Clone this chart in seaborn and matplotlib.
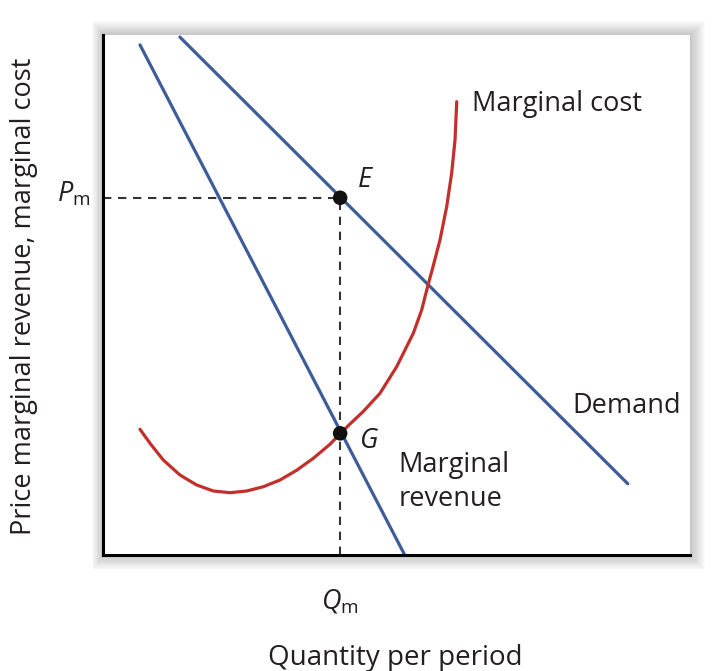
import numpy as np
import pandas as pd
import matplotlib
matplotlib.use('Agg')
import matplotlib.pyplot as plt
from matplotlib.patches import Rectangle
import seaborn as sns

# curve points (x = quantity, y = price), 0..10 scale
demand_x = [1.31, 8.94]
demand_y = [9.96, 1.37]

mr_x = [0.63, 5.14]
mr_y = [9.81, 0.0]

mc_x = [0.630, 0.801, 1.027, 1.312, 1.596, 1.879, 2.164, 2.448, 2.731, 3.015, 3.300, 3.583,
        3.867, 4.037, 4.208, 4.434, 4.719, 5.003, 5.286, 5.429, 5.537, 5.622, 5.741, 5.855,
        5.940, 5.997, 6.026]
mc_y = [2.417, 2.148, 1.827, 1.538, 1.346, 1.231, 1.198, 1.231, 1.313, 1.442, 1.630, 1.860,
        2.130, 2.330, 2.520, 2.760, 3.110, 3.621, 4.263, 4.712, 5.192, 5.544, 6.058, 6.698,
        7.346, 7.981, 8.717]

point_names = ['E', 'G']
point_x = [4.04, 4.04]
point_y = [6.87, 2.34]

blue = '#3d5c99'
red = '#c1302b'
txt = '#231f20'

sns.set_style('white')
plt.rcParams['font.family'] = ['Open Sans', 'DejaVu Sans']
plt.rcParams['mathtext.fontset'] = 'custom'
plt.rcParams['mathtext.rm'] = 'Open Sans'
plt.rcParams['mathtext.it'] = 'Open Sans:italic'

W, H = 720, 671
fig = plt.figure(figsize=(W / 100, H / 100), dpi=100)
ax_pos = [103 / W, 1 - 555 / H, 587 / W, 520 / H]

# soft drop shadow around the box
for k in range(14):
    p = 14 - k
    fig.patches.append(Rectangle(((103 - p * 0.8) / W, 1 - (555 + p * 1.1) / H),
                                 (587 + p * 1.9) / W, (520 + p * 2.1) / H,
                                 transform=fig.transFigure, facecolor='black',
                                 edgecolor='none', alpha=0.017, zorder=0))

ax = fig.add_axes(ax_pos)
ax.set_facecolor('white')
ax.set_zorder(1)

df_d = pd.DataFrame({'q': demand_x, 'p': demand_y})
df_mr = pd.DataFrame({'q': mr_x, 'p': mr_y})
df_mc = pd.DataFrame({'q': mc_x, 'p': mc_y})

sns.lineplot(data=df_d, x='q', y='p', ax=ax, color=blue, lw=2.3, estimator=None, sort=False)
sns.lineplot(data=df_mr, x='q', y='p', ax=ax, color=blue, lw=2.3, estimator=None, sort=False)
sns.lineplot(data=df_mc, x='q', y='p', ax=ax, color=red, lw=2.3, estimator=None, sort=False)

# dashed guides to P_m and Q_m
ax.plot([0, point_x[0]], [point_y[0], point_y[0]], ls=(0, (4, 3.2)), color='#333333', lw=1.5, zorder=1)
ax.plot([point_x[0], point_x[0]], [0, point_y[0]], ls=(0, (4, 3.2)), color='#333333', lw=1.5, zorder=1)

df_pts = pd.DataFrame({'q': point_x, 'p': point_y, 'name': point_names})
sns.scatterplot(data=df_pts, x='q', y='p', ax=ax, color='#111111', s=110, edgecolor='none', zorder=5)

ax.set_xlim(0, 10)
ax.set_ylim(0, 10)
ax.set_xticks([])
ax.set_yticks([])
ax.set_xlabel('')
ax.set_ylabel('')
for s in ['top', 'right']:
    ax.spines[s].set_visible(False)
for s in ['left', 'bottom']:
    ax.spines[s].set_color('black')
    ax.spines[s].set_linewidth(2.2)

fs = 19.5
ax.text(6.29, 8.54, 'Marginal cost', fontsize=fs, color=txt, va='baseline', ha='left')
ax.text(7.99, 2.73, 'Demand', fontsize=fs, color=txt, va='baseline', ha='left')
ax.text(5.04, 1.60, 'Marginal', fontsize=fs, color=txt, va='baseline', ha='left')
ax.text(5.04, 0.94, 'revenue', fontsize=fs, color=txt, va='baseline', ha='left')
ax.text(4.34, 7.08, 'E', fontsize=fs, color=txt, va='baseline', ha='left', style='italic')
ax.text(4.36, 2.06, 'G', fontsize=fs, color=txt, va='baseline', ha='left', style='italic')

ax.text(-0.22, 6.79, r'$P_{\mathrm{m}}$', fontsize=fs, color=txt,
        va='baseline', ha='right', clip_on=False)
ax.text(point_x[0], -1.02, r'$Q_{\mathrm{m}}$', fontsize=fs, color=txt,
        va='baseline', ha='center', clip_on=False)

fig.text(395 / W, 1 - 665 / H, 'Quantity per period', fontsize=20, color=txt, ha='center', va='baseline')
fig.text(24 / W, 1 - 296 / H, 'Price marginal revenue, marginal cost', fontsize=fs, color=txt,
         ha='center', va='center', rotation=90)

fig.savefig('out.png', dpi=100, facecolor='white')
